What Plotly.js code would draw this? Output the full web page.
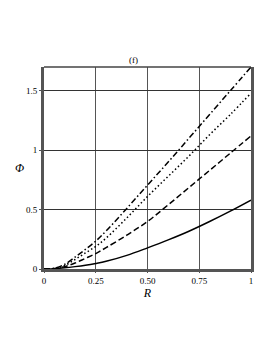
<!DOCTYPE html>
<html>
<head>
<meta charset="utf-8">
<script src="https://cdn.plot.ly/plotly-3.0.1.min.js"></script>
<style>html,body{margin:0;padding:0;background:#fff;}#chart{width:273px;height:353px;}</style>
</head>
<body>
<div id="chart"></div>
<script>
const R = [0, 0.05, 0.1, 0.15, 0.2, 0.25, 0.3, 0.4, 0.5, 0.6, 0.7, 0.8, 0.9, 1.0];
const phiSolid   = [0, 0.003, 0.01, 0.02, 0.032, 0.047, 0.065, 0.115, 0.178, 0.245, 0.318, 0.40, 0.487, 0.58];
const phiDashed  = [0, 0.004, 0.02, 0.05, 0.09, 0.13, 0.18, 0.285, 0.40, 0.54, 0.685, 0.83, 0.975, 1.12];
const phiDotted  = [0, 0.005, 0.03, 0.08, 0.135, 0.19, 0.26, 0.43, 0.61, 0.78, 0.95, 1.13, 1.30, 1.48];
const phiDashDot = [0, 0.006, 0.04, 0.10, 0.165, 0.235, 0.32, 0.51, 0.706, 0.90, 1.10, 1.30, 1.50, 1.70];
const xTicks = [0, 0.25, 0.5, 0.75, 1];
const xTickText = ["0", "0.25", "0.50", "0.75", "1"];
const yTicks = [0, 0.5, 1, 1.5];
const yTickText = ["0", "0.5", "1", "1.5"];

const serif = "Liberation Serif, Times New Roman, serif";
function tr(y, dash) {
  return {x: R, y: y, mode: 'lines', line: {color: '#000', width: 1.5, dash: dash, shape: 'spline'}, showlegend: false, hoverinfo: 'skip'};
}
const data = [
  tr(phiSolid, 'solid'),
  tr(phiDashed, '6px,3px'),
  tr(phiDotted, '1.5px,2.5px'),
  tr(phiDashDot, '6px,2.5px,1.5px,2.5px')
];
const layout = {
  width: 273, height: 353,
  margin: {l: 44, r: 22, t: 67, b: 84},
  paper_bgcolor: '#fff', plot_bgcolor: '#fff',
  font: {family: serif, size: 9, color: '#000'},
  xaxis: {range: [0, 1], tickvals: xTicks, ticktext: xTickText, showgrid: true, gridcolor: '#555', gridwidth: 1,
          zeroline: false, showline: true, linecolor: '#555', linewidth: 3, ticks: 'outside', ticklen: 1, tickcolor: '#555',
          title: {text: '<i>R</i>', font: {family: serif, size: 12}, standoff: 3}, fixedrange: true},
  yaxis: {range: [0, 1.7], tickvals: yTicks, ticktext: yTickText, showgrid: true, gridcolor: '#333', gridwidth: 1,
          zeroline: false, showline: true, mirror: true, linecolor: '#555', linewidth: 3, ticks: 'outside', ticklen: 2, tickcolor: '#555', fixedrange: true},
  shapes: [{type: 'line', xref: 'paper', yref: 'paper', x0: 0, x1: 1, y0: 1, y1: 1, line: {color: '#444', width: 1.5}}],
  annotations: [
    {text: '<i>Φ</i>', xref: 'paper', yref: 'y', x: -0.12, y: 0.85, showarrow: false, font: {family: serif, size: 12}, xanchor: 'center'},
    {text: '(f)', xref: 'x', yref: 'paper', x: 0.43, y: 1, yanchor: 'bottom', showarrow: false, font: {family: serif, size: 9}}
  ]
};
Plotly.newPlot('chart', data, layout, {displayModeBar: false, staticPlot: true});
</script>
</body>
</html>
